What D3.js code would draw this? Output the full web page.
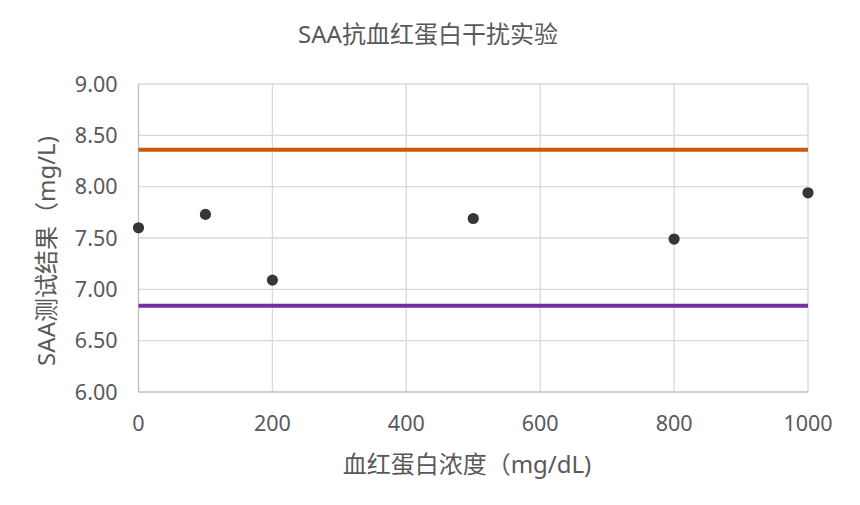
<!DOCTYPE html>
<html>
<head>
<meta charset="utf-8">
<script src="https://cdn.jsdelivr.net/npm/d3@7.9.0/dist/d3.min.js"></script>
<style>
  body { margin: 0; background: #fff; }
  svg text { font-family: "Noto Sans", "Noto Sans CJK SC", sans-serif; fill: #595959; }
</style>
</head>
<body>
<svg id="chart" width="860" height="505"></svg>
<script>
// hemoglobin concentration (mg/dL) and SAA result (mg/L)
const concentrations = [0, 100, 200, 500, 800, 1000];
const saaResults = [7.60, 7.73, 7.09, 7.69, 7.49, 7.94];
// reference limits
const upperLimit = 8.36;
const lowerLimit = 6.84;
const xTicks = [0, 200, 400, 600, 800, 1000];
const yTicks = [6.0, 6.5, 7.0, 7.5, 8.0, 8.5, 9.0];

const svg = d3.select('#chart');
const margin = { left: 138.5, right: 52, top: 84, bottom: 113 };
const width = 860, height = 505;

const x = d3.scaleLinear().domain([0, 1000]).range([margin.left, width - margin.right]);
const y = d3.scaleLinear().domain([6, 9]).range([height - margin.bottom, margin.top]);

// gridlines
svg.append('g').selectAll('line').data(yTicks.slice(1)).join('line')
  .attr('x1', x(0)).attr('x2', x(1000))
  .attr('y1', (d) => y(d)).attr('y2', (d) => y(d))
  .attr('stroke', '#d9d9d9').attr('stroke-width', 1.3);
svg.append('g').selectAll('line').data(xTicks.slice(1)).join('line')
  .attr('x1', (d) => x(d)).attr('x2', (d) => x(d))
  .attr('y1', y(6)).attr('y2', y(9))
  .attr('stroke', '#d9d9d9').attr('stroke-width', 1.3);

// axis lines
svg.append('line').attr('x1', x(0)).attr('x2', x(0)).attr('y1', y(6)).attr('y2', y(9))
  .attr('stroke', '#bfbfbf').attr('stroke-width', 1.3);
svg.append('line').attr('x1', x(0)).attr('x2', x(1000)).attr('y1', y(6)).attr('y2', y(6))
  .attr('stroke', '#bfbfbf').attr('stroke-width', 1.3);

// tick labels
svg.append('g').selectAll('text').data(yTicks).join('text')
  .attr('x', x(0) - 21).attr('y', (d) => y(d))
  .attr('dy', '0.35em').attr('text-anchor', 'end')
  .attr('font-size', 21.5)
  .text((d) => d3.format('.2f')(d));
svg.append('g').selectAll('text').data(xTicks).join('text')
  .attr('x', (d) => x(d)).attr('y', y(6) + 31)
  .attr('dy', '0.35em').attr('text-anchor', 'middle')
  .attr('font-size', 21.5)
  .text((d) => d);

// limit lines
svg.append('line').attr('x1', x(0)).attr('x2', x(1000))
  .attr('y1', y(upperLimit)).attr('y2', y(upperLimit))
  .attr('stroke', '#c55a11').attr('stroke-width', 4);
svg.append('line').attr('x1', x(0)).attr('x2', x(1000))
  .attr('y1', y(lowerLimit)).attr('y2', y(lowerLimit))
  .attr('stroke', '#7030a0').attr('stroke-width', 4);

// points
svg.append('g').selectAll('circle').data(concentrations).join('circle')
  .attr('cx', (d) => x(d))
  .attr('cy', (d, i) => y(saaResults[i]))
  .attr('r', 5.6)
  .attr('fill', '#363636');

// titles
svg.append('text').attr('x', 428).attr('y', 35).attr('dy', '0.35em')
  .attr('text-anchor', 'middle').attr('font-size', 24)
  .text('SAA抗血红蛋白干扰实验');
svg.append('text').attr('x', 467).attr('y', 465).attr('dy', '0.35em')
  .attr('text-anchor', 'middle').attr('font-size', 24)
  .text('血红蛋白浓度（mg/dL)');
svg.append('text')
  .attr('transform', `translate(47,251) rotate(-90)`)
  .attr('dy', '0.35em').attr('text-anchor', 'middle').attr('font-size', 24)
  .text('SAA测试结果（mg/L)');
</script>
</body>
</html>
